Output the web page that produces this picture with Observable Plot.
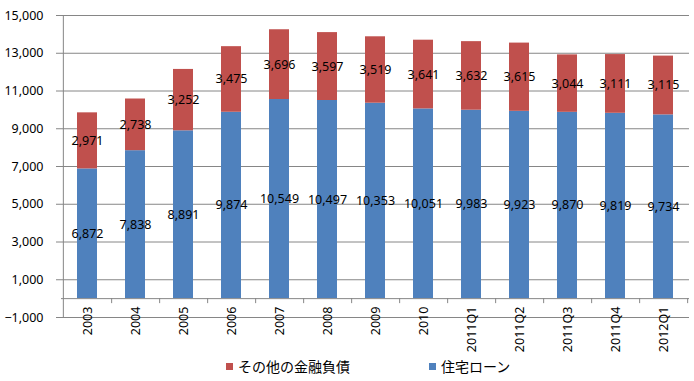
<!DOCTYPE html>
<html><head><meta charset="utf-8">
<script src="https://cdn.jsdelivr.net/npm/d3@7"></script>
<script src="https://cdn.jsdelivr.net/npm/@observablehq/plot@0.6"></script>
<style>
body{margin:0;background:#fff;}
#wrap{position:relative;width:694px;height:381px;overflow:hidden}
#chart{position:absolute;left:0;top:0}
#legend{position:absolute;left:226px;top:356px;display:flex;align-items:center;font-family:"Noto Sans CJK JP",sans-serif;font-size:14px;color:#000}
.item{display:flex;align-items:center}
.sw{width:7px;height:7px;margin-right:5px}
</style>
</head><body>
<div id="wrap"><div id="chart"></div><div id="legend"></div></div>
<script>
const categories = ["2003","2004","2005","2006","2007","2008","2009","2010","2011Q1","2011Q2","2011Q3","2011Q4","2012Q1"];
const housingLoan = [6872,7838,8891,9874,10549,10497,10353,10051,9983,9923,9870,9819,9734];
const otherDebt = [2971,2738,3252,3475,3696,3597,3519,3641,3632,3615,3044,3111,3115];
const yTicks = [-1000,1000,3000,5000,7000,9000,11000,13000,15000];
const seriesNames = ["その他の金融負債","住宅ローン"];
const seriesColors = ["#C0504D","#4F81BD"];

const rows = categories.map((c,i)=>({c, h: housingLoan[i], o: otherDebt[i]}));
const W = 694, H = 381, mL = 61, mR = 5, mT = 15, mB = 64;
const step = (W - mL - mR) / categories.length;
const fmt = d3.format(",");
const grid = "#868686";

const chart = Plot.plot({
  width: W, height: H,
  marginLeft: mL, marginRight: mR, marginTop: mT, marginBottom: mB,
  style: {fontFamily: "'Noto Sans', sans-serif", fontSize: "12.5px", color: "#000", background: "transparent"},
  x: {type: "band", domain: categories, paddingInner: 0.58, paddingOuter: 0.29, axis: null},
  y: {domain: [-1000, 15000], axis: null},
  marks: [
    Plot.ruleY(yTicks, {stroke: grid, strokeWidth: 1}),
    Plot.barY(rows, {x: "c", y1: 0, y2: "h", fill: seriesColors[1]}),
    Plot.barY(rows, {x: "c", y1: "h", y2: d => d.h + d.o, fill: seriesColors[0]}),
    Plot.axisY({ticks: yTicks, tickFormat: fmt, tickSize: 5, tickPadding: 13, stroke: grid, fill: "#000", fontSize: 12.5, label: null}),
    Plot.ruleX([categories[0]], {x: d => d, y1: -1000, y2: 15000, dx: -step / 2, stroke: grid}),
    Plot.ruleY([0], {stroke: grid}),
    Plot.ruleX(categories, {x: d => d, y1: 0, y2: 0, insetBottom: -5, dx: step / 2, stroke: grid}),
    Plot.text(rows, {x: "c", y: d => d.h / 2, text: d => fmt(d.h), fontSize: 12.5, fill: "#000"}),
    Plot.text(rows, {x: "c", y: d => d.h + d.o / 2, text: d => fmt(d.o), fontSize: 12.5, fill: "#000"}),
    Plot.text(categories, {x: d => d, y: () => 0, text: d => d, rotate: -90, textAnchor: "end", dy: 8, fontSize: 12.5, fill: "#000"})
  ]
});
document.getElementById("chart").appendChild(chart);

const legend = document.getElementById("legend");
seriesNames.forEach((name, i) => {
  const it = document.createElement("div");
  it.className = "item";
  if (i > 0) it.style.marginLeft = "79px";
  const sw = document.createElement("div");
  sw.className = "sw";
  sw.style.background = seriesColors[i];
  const t = document.createElement("span");
  t.textContent = name;
  it.appendChild(sw); it.appendChild(t);
  legend.appendChild(it);
});
</script>
</body></html>
